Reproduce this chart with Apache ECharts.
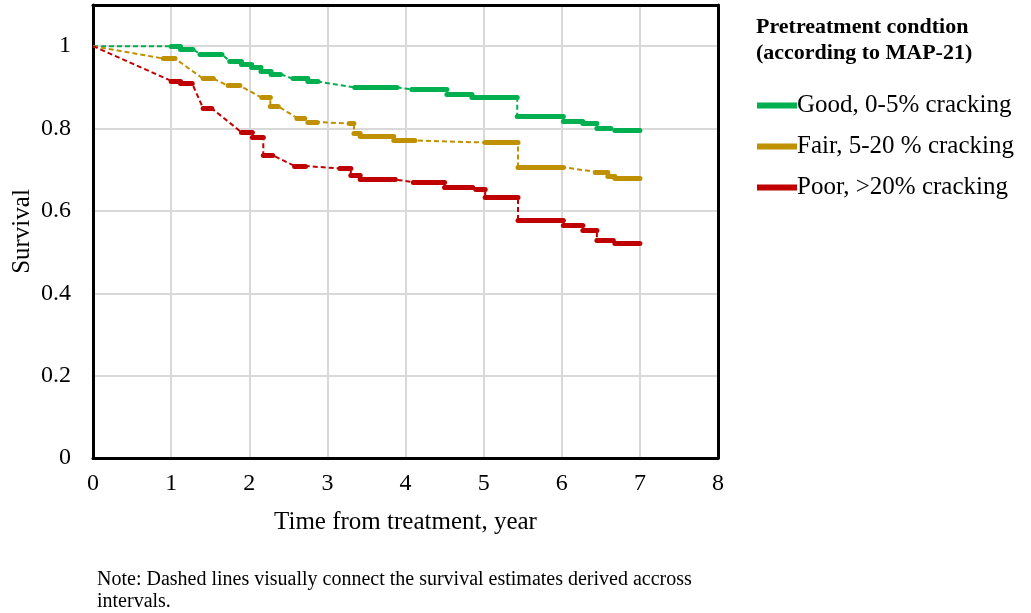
<!DOCTYPE html>
<html>
<head>
<meta charset="utf-8">
<script src="https://cdn.jsdelivr.net/npm/echarts@6/dist/echarts.min.js"></script>
<style>
  html, body { margin: 0; padding: 0; background: #fff; }
  #chart { width: 1031px; height: 613px; }
</style>
</head>
<body>
<div id="chart"></div>
<script>
// group names (legend)
const groupNames = ['Good, 0-5% cracking', 'Fair, 5-20 % cracking', 'Poor, >20% cracking']
const groupColors = ['#00B050', '#BF9000', '#C00000']

// survival steps: [start year, end year, survival]
const goodSteps = [
  [1.0, 1.12, 1.0], [1.12, 1.28, 0.993], [1.37, 1.65, 0.980], [1.75, 1.9, 0.964],
  [1.9, 2.03, 0.956], [2.03, 2.15, 0.949], [2.15, 2.28, 0.940], [2.28, 2.4, 0.932],
  [2.56, 2.75, 0.921], [2.75, 2.88, 0.914], [3.35, 3.89, 0.900], [4.08, 4.53, 0.895],
  [4.53, 4.85, 0.883], [4.85, 5.43, 0.876], [5.43, 6.02, 0.829], [6.02, 6.27, 0.817],
  [6.27, 6.45, 0.813], [6.45, 6.63, 0.800], [6.68, 7.0, 0.795]
]
const fairSteps = [
  [0.9, 1.05, 0.970], [1.41, 1.54, 0.921], [1.73, 1.88, 0.904], [2.16, 2.27, 0.875],
  [2.27, 2.37, 0.854], [2.61, 2.71, 0.826], [2.75, 2.87, 0.816], [3.28, 3.34, 0.812],
  [3.34, 3.42, 0.788], [3.42, 3.85, 0.782], [3.85, 4.12, 0.771], [5.02, 5.44, 0.766],
  [5.44, 6.02, 0.706], [6.43, 6.59, 0.695], [6.59, 6.68, 0.684], [6.68, 7.0, 0.679]
]
const poorSteps = [
  [1.0, 1.12, 0.916], [1.12, 1.27, 0.909], [1.41, 1.52, 0.849], [1.9, 2.04, 0.791],
  [2.04, 2.18, 0.780], [2.18, 2.3, 0.735], [2.58, 2.72, 0.709], [3.16, 3.3, 0.703],
  [3.3, 3.42, 0.687], [3.42, 3.87, 0.676], [4.1, 4.5, 0.670], [4.5, 4.86, 0.658],
  [4.9, 5.02, 0.652], [5.02, 5.44, 0.634], [5.44, 6.02, 0.577], [6.02, 6.27, 0.564],
  [6.27, 6.45, 0.553], [6.45, 6.66, 0.529], [6.68, 7.0, 0.522]
]
const startPoint = [0, 1]

const allSteps = [goodSteps, fairSteps, poorSteps]
const serif = 'Liberation Serif'

const chart = echarts.init(document.getElementById('chart'))

const series = []
allSteps.forEach((steps, i) => {
  // dashed connector through every estimate
  const dashed = [startPoint]
  steps.forEach(s => {
    dashed.push([s[0], s[2]])
    dashed.push([s[1], s[2]])
  })
  series.push({
    name: groupNames[i] + ' (interval)',
    type: 'line',
    data: dashed,
    symbol: 'none',
    z: 2,
    lineStyle: { color: groupColors[i], width: 2, type: [5, 3] }
  })
  // solid steps
  series.push({
    name: groupNames[i],
    type: 'lines',
    coordinateSystem: 'cartesian2d',
    z: 3,
    data: steps.map(s => ({ coords: [[s[0], s[2]], [s[1], s[2]]] })),
    lineStyle: { color: groupColors[i], width: 5, opacity: 1, cap: 'round' },
    itemStyle: { color: groupColors[i] }
  })
})

// frame: extra axes on top and right only draw the black line
const frameAxis = {
  axisLine: { show: true, onZero: false, lineStyle: { color: '#000', width: 3 } },
  axisTick: { show: false },
  axisLabel: { show: false },
  splitLine: { show: false }
}

const option = {
  animation: false,
  backgroundColor: '#fff',
  color: groupColors,
  title: {
    text: 'Pretreatment condtion\n(according to MAP-21)',
    left: 751,
    top: 9,
    textStyle: { fontFamily: serif, fontWeight: 'bold', fontSize: 22, lineHeight: 26, color: '#000' }
  },
  legend: {
    data: groupNames,
    orient: 'vertical',
    left: 752,
    top: 88,
    itemWidth: 38,
    itemHeight: 4,
    itemGap: 16,
    icon: 'rect',
    textStyle: { fontFamily: serif, fontSize: 25, color: '#000', padding: [0, 0, 0, -4] }
  },
  graphic: [{
    type: 'text',
    left: 97,
    top: 569,
    style: {
      text: 'Note: Dashed lines visually connect the survival estimates derived accross\nintervals.',
      font: '20px "Liberation Serif"',
      lineHeight: 22,
      fill: '#000'
    }
  }],
  grid: {
    left: 93,
    right: 313,
    top: 5,
    bottom: 155,
    outerBoundsMode: 'none',
    containLabel: false
  },
  xAxis: [{
    type: 'value',
    min: 0,
    max: 8,
    interval: 1,
    name: 'Time from treatment, year',
    nameLocation: 'middle',
    nameGap: 52,
    nameMoveOverlap: false,
    nameTextStyle: { fontFamily: serif, fontSize: 25, color: '#000' },
    axisLine: { show: true, lineStyle: { color: '#000', width: 3 } },
    axisTick: { show: false },
    axisLabel: { fontFamily: serif, fontSize: 24, color: '#000', margin: 14 },
    splitLine: { show: true, lineStyle: { color: '#D9D9D9', width: 2 } }
  }, Object.assign({ type: 'value', min: 0, max: 8, position: 'top' }, frameAxis)],
  yAxis: [{
    type: 'value',
    min: 0,
    max: 1.1,
    interval: 0.2,
    name: 'Survival',
    nameLocation: 'middle',
    nameGap: 58,
    nameMoveOverlap: false,
    nameTextStyle: { fontFamily: serif, fontSize: 25, color: '#000' },
    axisLine: { show: true, lineStyle: { color: '#000', width: 3 } },
    axisTick: { show: false },
    axisLabel: {
      fontFamily: serif, fontSize: 24, color: '#000', margin: 22,
      formatter: v => (v > 1.05 ? '' : String(Math.round(v * 10) / 10))
    },
    splitLine: { show: true, lineStyle: { color: '#D9D9D9', width: 2 } }
  }, Object.assign({ type: 'value', min: 0, max: 1.1, position: 'right' }, frameAxis)],
  series: series
}

chart.setOption(option)
</script>
</body>
</html>
